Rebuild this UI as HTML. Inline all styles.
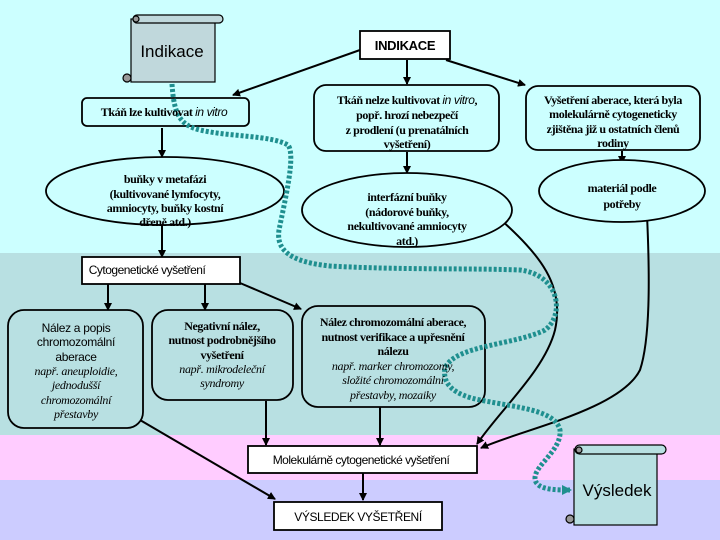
<!DOCTYPE html>
<html><head><meta charset="utf-8"><style>
html,body{margin:0;padding:0;width:720px;height:540px;overflow:hidden}
svg{display:block}
.s{font-family:"Liberation Serif",serif;font-weight:bold;font-size:12px;letter-spacing:-0.4px}
.i{font-family:"Liberation Serif",serif;font-style:italic;font-size:12px;letter-spacing:-0.3px}
.a{font-family:"Liberation Sans",sans-serif}
</style></head><body>
<svg width="720" height="540" viewBox="0 0 720 540" xmlns="http://www.w3.org/2000/svg">
<defs>
<marker id="ar" markerWidth="8" markerHeight="8" refX="7" refY="4" orient="auto" markerUnits="userSpaceOnUse"><path d="M0,0 L8,4 L0,8 z" fill="#000"/></marker>
<marker id="at" markerWidth="10" markerHeight="10" refX="8" refY="5" orient="auto" markerUnits="userSpaceOnUse"><path d="M0,0 L10,5 L0,10 z" fill="#1f8f8f"/></marker>
</defs>
<rect x="0" y="0" width="720" height="253" fill="#ccffff"/>
<rect x="0" y="253" width="720" height="182" fill="#b8e0e2"/>
<rect x="0" y="435" width="720" height="45" fill="#ffccff"/>
<rect x="0" y="480" width="720" height="60" fill="#ccccff"/>

<!-- Indikace scroll -->
<g stroke="#000" stroke-width="1.2">
<rect x="131" y="19" width="84" height="63" fill="#c0d8dc"/>
<rect x="133" y="15" width="90" height="8" rx="4" fill="#c0d8dc"/>
<circle cx="136" cy="19" r="3" fill="#999"/>
<circle cx="127" cy="78" r="4" fill="#999"/>
</g>
<text x="172" y="57" class="a" font-size="17" text-anchor="middle">Indikace</text>

<!-- Výsledek scroll -->
<g stroke="#000" stroke-width="1.2">
<rect x="574" y="449" width="83" height="76" fill="#b8e0e2"/>
<rect x="575" y="445" width="91" height="9" rx="4.5" fill="#b8e0e2"/>
<circle cx="579" cy="450" r="3" fill="#999"/>
<circle cx="570" cy="519" r="4" fill="#999"/>
</g>
<text x="617" y="496" class="a" font-size="17" text-anchor="middle">Výsledek</text>

<!-- connectors -->
<g stroke="#000" stroke-width="2" fill="none" marker-end="url(#ar)">
<line x1="360" y1="50" x2="233" y2="95"/>
<line x1="407" y1="60" x2="407" y2="84"/>
<line x1="446" y1="60" x2="525" y2="85"/>
<line x1="162" y1="128" x2="162" y2="157"/>
<line x1="162" y1="225" x2="162" y2="257"/>
<line x1="407" y1="152" x2="407" y2="173"/>
<line x1="622" y1="151" x2="622" y2="163"/>
<line x1="108" y1="284" x2="108" y2="310"/>
<line x1="205" y1="284" x2="205" y2="310"/>
<line x1="240" y1="283" x2="301" y2="309"/>
<line x1="140" y1="420" x2="275" y2="499"/>
<line x1="266" y1="401" x2="266" y2="445"/>
<line x1="380" y1="407" x2="380" y2="445"/>
<line x1="363" y1="473" x2="363" y2="500"/>
<path d="M499,218 C540,255 565,285 555,330 C545,370 500,410 477,444"/>
<path d="M647,215 C650,280 650,340 640,370 C620,410 520,430 481,448"/>
</g>

<!-- boxes -->
<g stroke="#000" stroke-width="1.8">
<rect x="360" y="31" width="90" height="28" fill="#fff"/>
<rect x="82" y="98" width="167" height="28" rx="5" fill="#ccffff"/>
<rect x="314" y="85" width="185" height="66" rx="12" fill="#ccffff"/>
<rect x="526" y="86" width="174" height="64" rx="12" fill="#ccffff"/>
<ellipse cx="165" cy="191" rx="119" ry="34" fill="#ccffff"/>
<ellipse cx="407" cy="210" rx="105" ry="37" fill="#ccffff"/>
<ellipse cx="622" cy="191" rx="83" ry="31" fill="#ccffff"/>
<rect x="82" y="257" width="158" height="27" fill="#fff"/>
<rect x="8" y="310" width="135" height="118" rx="16" fill="#b8e0e2"/>
<rect x="152" y="310" width="141" height="90" rx="16" fill="#b8e0e2"/>
<rect x="302" y="306" width="183" height="101" rx="16" fill="#b8e0e2"/>
<rect x="248" y="446" width="229" height="27" fill="#fff"/>
<rect x="274" y="502" width="168" height="28" fill="#fff"/>
</g>

<!-- dotted teal path (drawn over boxes) -->
<path d="M172,84 C174,115 180,125 200,130 C230,137 270,135 288,145 C296,155 285,200 279,230 C276,250 290,262 330,266 C400,270 470,268 520,270 C560,275 565,315 545,330 C515,345 455,345 445,368 C442,385 455,395 480,400 C520,408 555,410 560,430 C562,450 535,465 535,478 C535,490 555,490 570,490" fill="none" stroke="#1f8f8f" stroke-width="5" stroke-dasharray="3,2" marker-end="url(#at)"/>

<g text-anchor="middle">
<text x="405" y="50" class="a" font-size="13" font-weight="bold" letter-spacing="-0.3">INDIKACE</text>
<text x="164" y="116" class="s">Tkáň lze kultivovat <tspan font-family="Liberation Sans" font-style="italic" font-weight="normal">in vitro</tspan></text>
<text class="s"><tspan x="407" y="104">Tkáň nelze kultivovat <tspan font-family="Liberation Sans" font-style="italic" font-weight="normal">in vitro</tspan>,</tspan><tspan x="407" y="119">popř. hrozí nebezpečí</tspan><tspan x="407" y="134">z prodlení (u prenatálních</tspan><tspan x="407" y="148">vyšetření)</tspan></text>
<text class="s"><tspan x="613" y="104">Vyšetření aberace, která byla</tspan><tspan x="613" y="118">molekulárně cytogeneticky</tspan><tspan x="613" y="133">zjištěna již u ostatních členů</tspan><tspan x="613" y="147">rodiny</tspan></text>
<text class="s"><tspan x="165" y="183">buňky v metafázi</tspan><tspan x="165" y="198">(kultivované lymfocyty,</tspan><tspan x="165" y="212">amniocyty, buňky kostní</tspan><tspan x="165" y="226">dřeně atd.)</tspan></text>
<text class="s"><tspan x="407" y="201">interfázní buňky</tspan><tspan x="407" y="216">(nádorové buňky,</tspan><tspan x="407" y="230">nekultivované amniocyty</tspan><tspan x="407" y="245">atd.)</tspan></text>
<text class="s" font-size="14"><tspan x="622" y="192">materiál podle</tspan><tspan x="622" y="208">potřeby</tspan></text>
<text x="147" y="274" class="a" font-size="12" letter-spacing="-0.5">Cytogenetické vyšetření</text>
<text class="a" font-size="12" letter-spacing="-0.3"><tspan x="76" y="332">Nález a popis</tspan><tspan x="76" y="346">chromozomální</tspan><tspan x="76" y="361">aberace</tspan></text>
<text class="i"><tspan x="76" y="375">např. aneuploidie,</tspan><tspan x="76" y="389">jednodušší</tspan><tspan x="76" y="404">chromozomální</tspan><tspan x="76" y="418">přestavby</tspan></text>
<text class="s"><tspan x="222" y="330">Negativní nález,</tspan><tspan x="222" y="344">nutnost podrobnějšího</tspan><tspan x="222" y="359">vyšetření</tspan></text>
<text class="i"><tspan x="222" y="373">např. mikrodeleční</tspan><tspan x="222" y="387">syndromy</tspan></text>
<text class="s"><tspan x="393" y="326">Nález chromozomální aberace,</tspan><tspan x="393" y="341">nutnost verifikace a upřesnění</tspan><tspan x="393" y="355">nálezu</tspan></text>
<text class="i"><tspan x="393" y="370">např. marker chromozomy,</tspan><tspan x="393" y="384">složité chromozomální</tspan><tspan x="393" y="399">přestavby, mozaiky</tspan></text>
<text x="361" y="464" class="a" font-size="12" letter-spacing="-0.5">Molekulárně cytogenetické vyšetření</text>
<text x="358" y="521" class="a" font-size="12" letter-spacing="-0.4">VÝSLEDEK VYŠETŘENÍ</text>
</g>
</svg>
</body></html>
